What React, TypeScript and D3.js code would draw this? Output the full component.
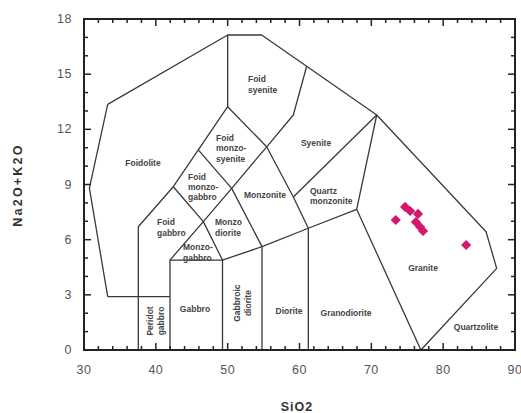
import React from "react";
import * as d3 from "d3";

// Plutonic TAS classification (SiO2 vs Na2O+K2O) with granite samples.

const X_TICKS = [30, 40, 50, 60, 70, 80, 90];
const Y_TICKS = [0, 3, 6, 9, 12, 15, 18];

// Sample analyses (wt%)
const sampleSiO2 = [73.4, 74.7, 75.4, 76.5, 76.2, 76.8, 77.2, 83.2];
const sampleAlkali = [7.07, 7.78, 7.56, 7.4, 6.96, 6.69, 6.47, 5.71];

// Field boundaries, [SiO2, Na2O+K2O]
const outerBoundary: [number, number][] = [
  [33.3, 2.9], [30.75, 8.8], [33.3, 13.36], [50, 17.13], [54.74, 17.13],
  [70.75, 12.78], [85.97, 6.43], [87.45, 4.44], [76.9, 0],
];
const foidoliteBase: [number, number][] = [[33.3, 2.9], [41.97, 2.9]];
const foidUpperEdge: [number, number][] = [
  [37.56, 0], [37.56, 6.7], [42.43, 8.88], [45.91, 10.88], [50, 13.23], [50, 17.13],
];
const gabbroBox: [number, number][] = [[41.97, 0], [41.97, 4.89], [49.28, 4.89], [49.28, 0]];
const monzoLine: [number, number][] = [
  [41.97, 4.89], [46.61, 6.98], [50.56, 8.79], [55.43, 11.05], [59.14, 12.78], [61.0, 15.43],
];
const foidGabbroEdge: [number, number][] = [[42.43, 8.88], [46.61, 6.98], [49.28, 4.89]];
const monzoGabbroEdge: [number, number][] = [[45.91, 10.88], [50.56, 8.79], [54.78, 5.62]];
const dioriteTop: [number, number][] = [[49.28, 4.89], [54.78, 5.62], [61.23, 6.62], [67.96, 7.65]];
const gabbroicDioriteEdge: [number, number][] = [[54.78, 5.62], [54.78, 0]];
const dioriteEdge: [number, number][] = [[61.23, 6.62], [61.23, 0]];
const syeniteBase: [number, number][] = [[50, 13.23], [55.43, 11.05], [59.14, 8.32], [61.23, 6.62]];
const quartzMonzoniteTop: [number, number][] = [[59.14, 8.32], [70.75, 12.78]];
const graniteEdge: [number, number][] = [[70.75, 12.78], [67.96, 7.65], [76.9, 0]];

const boundaries = [
  outerBoundary, foidoliteBase, foidUpperEdge, gabbroBox, monzoLine, foidGabbroEdge,
  monzoGabbroEdge, dioriteTop, gabbroicDioriteEdge, dioriteEdge, syeniteBase,
  quartzMonzoniteTop, graniteEdge,
];

// Field names: lines, anchor position [SiO2, alkali], alignment, rotation
type FieldLabel = { lines: string[]; at: [number, number][]; anchor: string; rotate?: boolean };
const fieldLabels: FieldLabel[] = [
  { lines: ["Foidolite"], at: [[38.21, 10.18]], anchor: "middle" },
  { lines: ["Foid", "syenite"], at: [[52.83, 14.73], [52.83, 14.14]], anchor: "start" },
  { lines: ["Foid", "monzo-", "syenite"], at: [[48.38, 11.53], [48.38, 10.96], [48.38, 10.39]], anchor: "start" },
  { lines: ["Foid", "monzo-", "gabbro"], at: [[44.48, 9.41], [44.48, 8.86], [44.48, 8.32]], anchor: "start" },
  { lines: ["Foid", "gabbro"], at: [[40.16, 6.96], [40.16, 6.36]], anchor: "start" },
  { lines: ["Monzo", "diorite"], at: [[48.24, 6.96], [48.24, 6.36]], anchor: "start" },
  { lines: ["Monzo-", "gabbro"], at: [[43.78, 5.6], [43.78, 5.03]], anchor: "start" },
  { lines: ["Monzonite"], at: [[55.2, 8.43]], anchor: "middle" },
  { lines: ["Syenite"], at: [[62.3, 11.26]], anchor: "middle" },
  { lines: ["Quartz", "monzonite"], at: [[61.46, 8.65], [61.46, 8.1]], anchor: "start" },
  { lines: ["Granite"], at: [[77.2, 4.46]], anchor: "middle" },
  { lines: ["Quartzolite"], at: [[84.57, 1.25]], anchor: "middle" },
  { lines: ["Granodiorite"], at: [[66.48, 2.01]], anchor: "middle" },
  { lines: ["Diorite"], at: [[58.54, 2.12]], anchor: "middle" },
  { lines: ["Gabbro"], at: [[45.45, 2.23]], anchor: "middle" },
  { lines: ["Gabbroic", "diorite"], at: [[51.25, 2.55], [52.83, 2.55]], anchor: "middle", rotate: true },
  { lines: ["Peridot", "gabbro"], at: [[39.19, 1.58], [40.72, 1.58]], anchor: "middle", rotate: true },
];

const W = 521;
const H = 413;
const FONT = "'Liberation Sans', Arial, Helvetica, sans-serif";

export default function App() {
  const x = d3.scaleLinear().domain([30, 90]).range([84, 515]);
  const y = d3.scaleLinear().domain([0, 18]).range([350, 19]);
  const line = d3
    .line<[number, number]>()
    .x((d) => x(d[0]))
    .y((d) => y(d[1]));
  const diamond = d3.symbol().type(d3.symbolSquare).size(52)();

  const xMinor = d3.range(30, 90.001, 2);
  const yMinor = d3.range(0, 18.001, 1);
  const x0 = x(30), x1 = x(90), y0 = y(0), y1 = y(18);

  return (
    <svg
      width={W}
      height={H}
      style={{ position: "absolute", left: 0, top: 0, background: "#fff" }}
      fontFamily={FONT}
    >
      <rect x={0} y={0} width={W} height={H} fill="#fff" />

      {/* field boundaries */}
      {boundaries.map((b, i) => (
        <path key={i} d={line(b) ?? ""} fill="none" stroke="#3a3a3a" strokeWidth={1.3} strokeLinejoin="round" />
      ))}

      {/* field names */}
      {fieldLabels.map((f, i) =>
        f.lines.map((t, j) => {
          const px = x(f.at[j][0]);
          const py = y(f.at[j][1]);
          return (
            <text
              key={`${i}-${j}`}
              x={px}
              y={py}
              fontSize={8.5}
              fontWeight={700}
              fill="#444"
              textAnchor={f.anchor as any}
              dominantBaseline="central"
              transform={f.rotate ? `rotate(-90 ${px} ${py})` : undefined}
            >
              {t}
            </text>
          );
        })
      )}

      {/* samples */}
      {sampleSiO2.map((s, i) => (
        <path
          key={i}
          d={diamond ?? ""}
          transform={`translate(${x(s)},${y(sampleAlkali[i])}) rotate(45)`}
          fill="#d3176a"
        />
      ))}

      {/* ticks */}
      {xMinor.map((v) => {
        const len = v % 10 === 0 ? 7 : 4;
        return (
          <g key={`xt${v}`} stroke="#222" strokeWidth={1.5}>
            <line x1={x(v)} x2={x(v)} y1={y0} y2={y0 - len} />
            <line x1={x(v)} x2={x(v)} y1={y1} y2={y1 + len} />
          </g>
        );
      })}
      {yMinor.map((v) => {
        const len = v % 3 === 0 ? 7 : 4;
        return (
          <g key={`yt${v}`} stroke="#222" strokeWidth={1.5}>
            <line x1={x0} x2={x0 + len} y1={y(v)} y2={y(v)} />
            <line x1={x1} x2={x1 - len} y1={y(v)} y2={y(v)} />
          </g>
        );
      })}

      {/* frame */}
      <rect x={x0} y={y1} width={x1 - x0} height={y0 - y1} fill="none" stroke="#222" strokeWidth={2} />

      {/* tick labels */}
      {X_TICKS.map((v) => (
        <text key={`xl${v}`} x={x(v)} y={374} fontSize={12.5} fill="#555" textAnchor="middle" letterSpacing={0.5}>
          {v}
        </text>
      ))}
      {Y_TICKS.map((v) => (
        <text key={`yl${v}`} x={72} y={y(v)} fontSize={12.5} fill="#555" textAnchor="end" dominantBaseline="central" letterSpacing={0.5}>
          {v}
        </text>
      ))}

      {/* axis titles */}
      <text x={297} y={411} fontSize={12.5} fontWeight={700} fill="#333" textAnchor="middle" letterSpacing={1}>
        SiO2
      </text>
      <text
        x={18}
        y={185}
        fontSize={12.5}
        fontWeight={700}
        fill="#333"
        textAnchor="middle"
        dominantBaseline="central"
        letterSpacing={2.2}
        transform="rotate(-90 18 185)"
      >
        Na2O+K2O
      </text>
    </svg>
  );
}
